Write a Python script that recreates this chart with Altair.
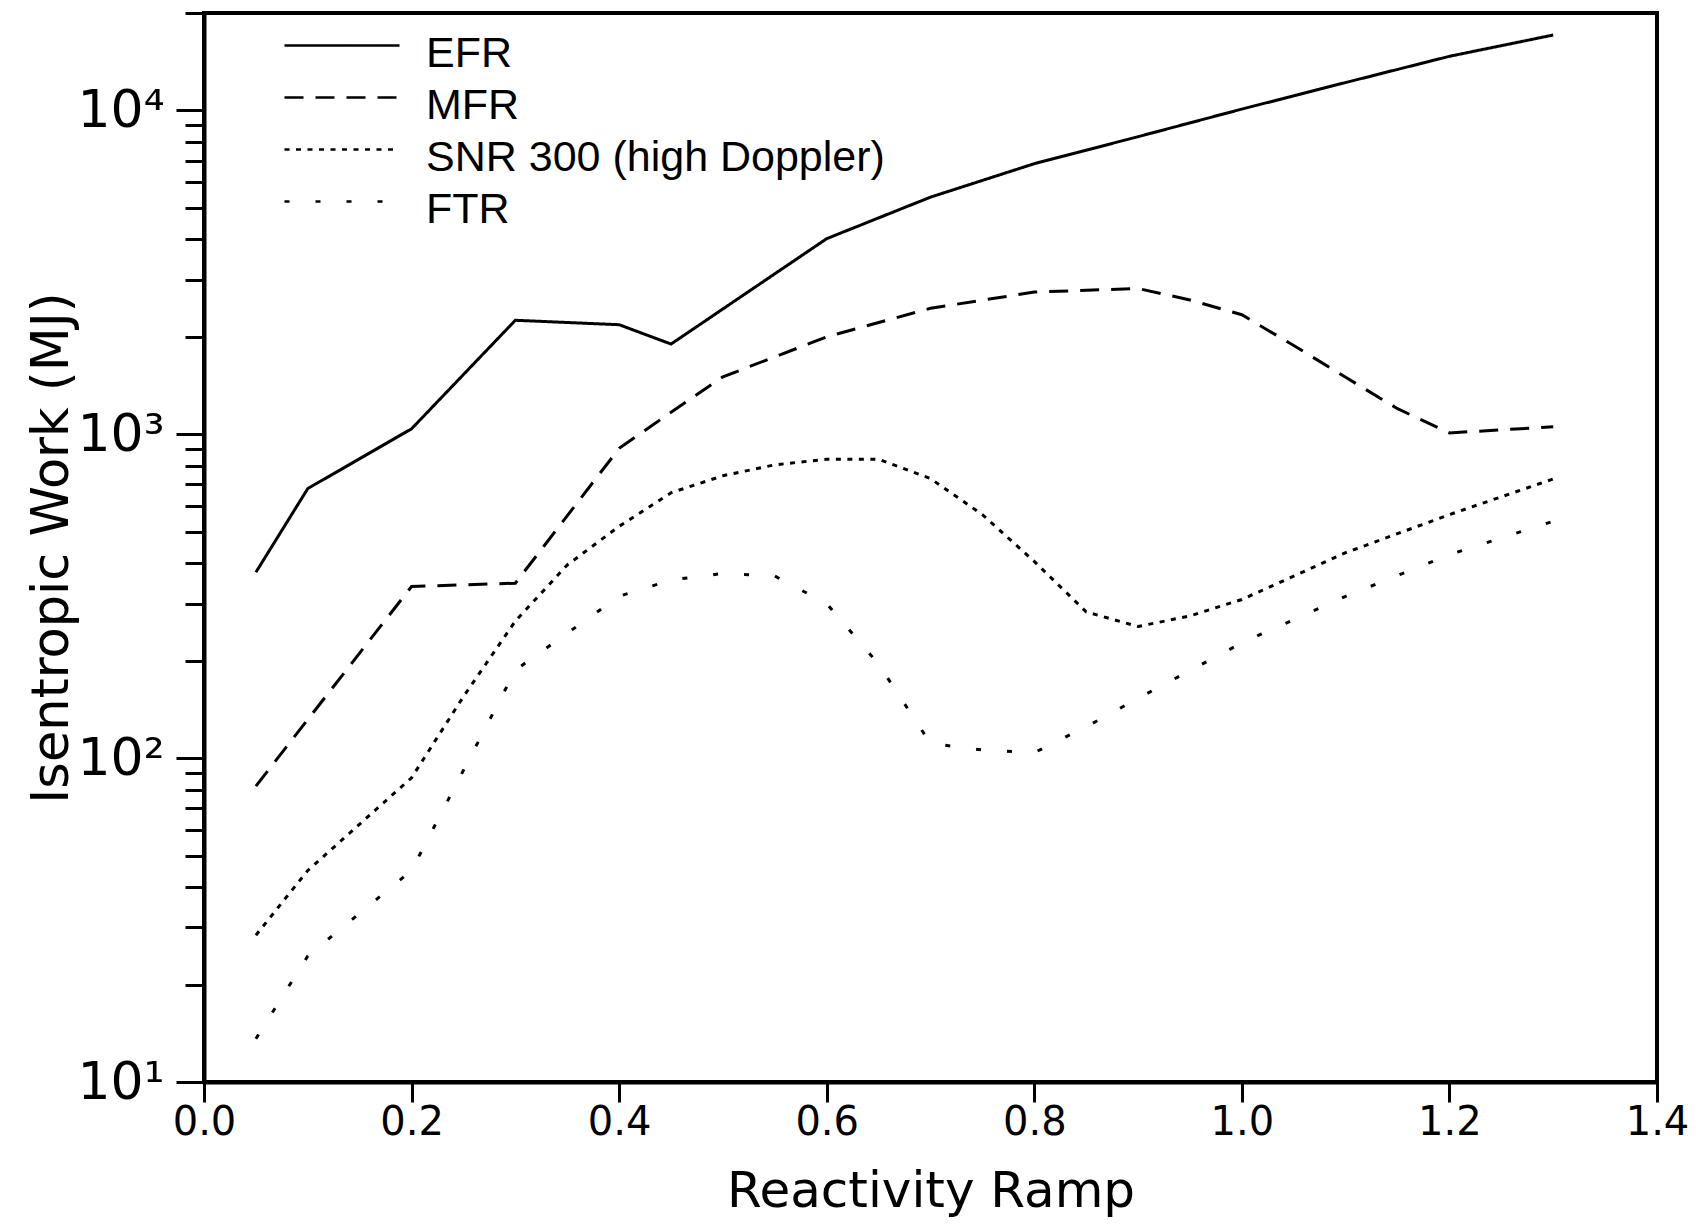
import altair as alt
import pandas as pd

# ---- data ----
series_order = ["EFR", "MFR", "SNR 300 (high Doppler)", "FTR"]

efr_x = [0.05, 0.10, 0.20, 0.30, 0.40, 0.45, 0.60, 0.70, 0.80, 0.90, 1.00, 1.10, 1.20, 1.30]
efr_y = [375, 680, 1040, 2250, 2180, 1900, 4020, 5400, 6850, 8300, 10100, 12200, 14700, 17100]

mfr_x = [0.05, 0.20, 0.30, 0.40, 0.45, 0.50, 0.60, 0.70, 0.80, 0.90, 0.95, 1.00, 1.05, 1.10, 1.15, 1.20, 1.30]
mfr_y = [82, 339, 347, 905, 1170, 1505, 2000, 2450, 2750, 2820, 2600, 2340, 1880, 1500, 1200, 1010, 1055]

snr_x = [0.05, 0.10, 0.20, 0.25, 0.30, 0.35, 0.40, 0.45, 0.50, 0.55, 0.60, 0.65, 0.70, 0.75, 0.80, 0.85, 0.90, 0.95, 1.00, 1.10, 1.20, 1.30]
snr_y = [28.4, 45, 87, 155, 265, 395, 520, 660, 745, 805, 838, 838, 730, 565, 405, 283, 255, 275, 309, 431, 565, 728]

ftr_x = [0.05, 0.10, 0.20, 0.30, 0.40, 0.45, 0.50, 0.55, 0.60, 0.65, 0.70, 0.75, 0.80, 0.85, 0.90, 1.00, 1.10, 1.20, 1.30]
ftr_y = [13.6, 24.5, 45, 187, 316, 355, 372, 365, 300, 195, 111, 106, 104, 125, 153, 227, 316, 425, 539]

line_dashes = [[1, 0], [19, 12], [5, 6.5], [5, 26]]

x_ticks = [0.0, 0.2, 0.4, 0.6, 0.8, 1.0, 1.2, 1.4]
y_ticks = [m * 10 ** e for e in range(1, 4) for m in range(1, 10)] + [10000, 20000]

rows = []
for name, xs, ys in zip(series_order, [efr_x, mfr_x, snr_x, ftr_x], [efr_y, mfr_y, snr_y, ftr_y]):
    for xv, yv in zip(xs, ys):
        rows.append({"series": name, "ramp": xv, "work": yv})
df = pd.DataFrame(rows)

FONT = "DejaVu Sans"
LEGEND_FONT = "Liberation Sans"

chart = (
    alt.Chart(df)
    .mark_line(color="black", strokeWidth=3)
    .encode(
        x=alt.X(
            "ramp:Q",
            scale=alt.Scale(domain=[0, 1.4], nice=False, zero=False),
            axis=alt.Axis(
                values=x_ticks,
                format=".1f",
                grid=False,
                labelFontSize=40,
                labelPadding=0,
                tickSize=20,
                tickWidth=3,
                domainWidth=4,
                labelFlush=False,
                labelOverlap=False,
                title="Reactivity Ramp",
                titleFontSize=50,
                titleFontWeight="normal",
                titleBaseline="alphabetic",
                titleY=124,
            ),
        ),
        y=alt.Y(
            "work:Q",
            scale=alt.Scale(type="log", domain=[10, 20000], nice=False),
            axis=alt.Axis(
                values=y_ticks,
                labelExpr="datum.value == 10 ? '10\u00b9' : datum.value == 100 ? '10\u00b2' : datum.value == 1000 ? '10\u00b3' : datum.value == 10000 ? '10\u2074' : ''",
                grid=False,
                labelFontSize=52,
                labelPadding=12,
                labelBaseline="middle",
                labelFlush=False,
                labelOverlap=False,
                tickSize={"condition": {"test": "indexof([10, 100, 1000, 10000], datum.value) >= 0", "value": 28}, "value": 19},
                tickWidth=3,
                domainWidth=4,
                title="Isentropic Work (MJ)",
                titleFontSize=51,
                titleFontWeight="normal",
                titleBaseline="alphabetic",
                titleAngle=270,
                titleX=-137,
                titleY=534.5,
            ),
        ),
        strokeDash=alt.StrokeDash(
            "series:N",
            scale=alt.Scale(domain=series_order, range=line_dashes),
            legend=alt.Legend(
                title=None,
                orient="none",
                legendX=116.5,
                legendY=19,
                padding=0,
                symbolType="M-5.75,-0.8H5.75",
                symbolSize=400,
                symbolStrokeWidth=2.5,
                symbolStrokeColor="black",
                labelFontSize=43,
                labelFont=LEGEND_FONT,
                labelColor="black",
                labelOffset=62.5,
                labelLimit=800,
                rowPadding=8,
            ),
        ),
    )
    .properties(
        width=1453,
        height=1069,
        autosize=alt.AutoSizeParams(type="none"),
        padding={"left": 196, "top": 5, "right": 36, "bottom": 136},
    )
    .configure_view(stroke="black", strokeWidth=4)
    .configure_axis(
        labelFont=FONT,
        titleFont=FONT,
        labelColor="black",
        titleColor="black",
        domainColor="black",
        tickColor="black",
    )
)

chart.save("out.html", embed_options={"renderer": "svg", "actions": False})
